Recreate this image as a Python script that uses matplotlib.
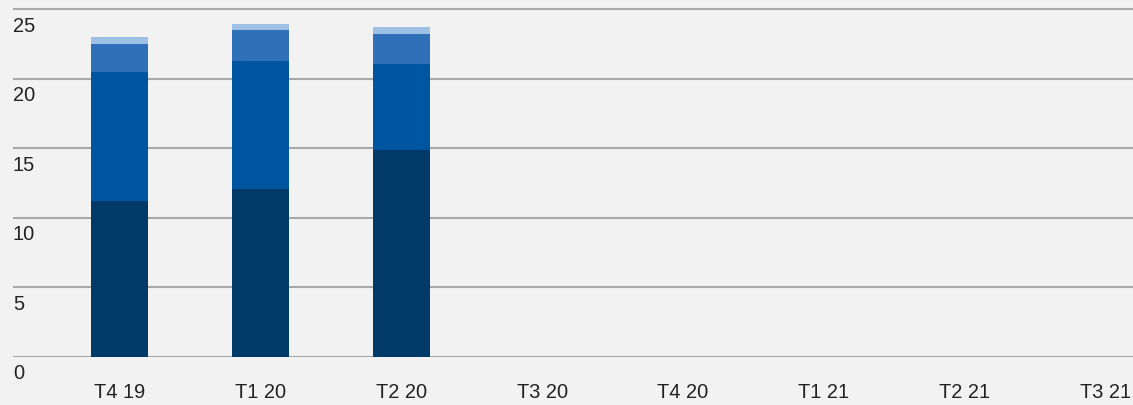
import numpy as np
import matplotlib
matplotlib.use("Agg")
import matplotlib.pyplot as plt
import matplotlib.transforms as mtransforms

# Data
quarters = ["T4 19", "T1 20", "T2 20", "T3 20", "T4 20", "T1 21", "T2 21", "T3 21"]
series_1 = [11.2, 12.1, 14.9]   # darkest, bottom
series_2 = [9.3, 9.2, 6.2]
series_3 = [2.0, 2.2, 2.1]
series_4 = [0.5, 0.45, 0.5]     # lightest, top
y_ticks = [0, 5, 10, 15, 20, 25]

colors = ["#003a69", "#0055a0", "#3070b8", "#9dc0e4"]
bg = "#f2f2f2"

plt.rcParams["font.family"] = ["Liberation Sans", "DejaVu Sans"]

fig = plt.figure(figsize=(11.33, 4.05), dpi=100, facecolor=bg)
ax = fig.add_axes([13 / 1133, 48.3 / 405, 1 - 13 / 1133, 1 - 48.3 / 405])
ax.set_facecolor(bg)

x = np.arange(len(series_1))
bottom = np.zeros(len(series_1))
for values, color in zip([series_1, series_2, series_3, series_4], colors):
    ax.bar(x, values, width=0.405, bottom=bottom, color=color, zorder=3)
    bottom += np.array(values)

ax.set_xlim(-0.756, 7.193)
ax.set_ylim(0, 25.67)

# horizontal grid lines
for t in y_ticks:
    ax.axhline(t, color="#a8a8a8", lw=1.5, zorder=1)

for side in ["top", "right", "left", "bottom"]:
    ax.spines[side].set_visible(False)

ax.set_xticks(np.arange(len(quarters)))
ax.set_xticklabels(quarters, fontsize=14.4, color="#222222")
ax.tick_params(axis="x", length=0, pad=19)
ax.set_yticks([])

# y labels sit just below each grid line, inside the left edge
trans = mtransforms.offset_copy(ax.get_yaxis_transform(), fig=fig, x=0, y=-5.5, units="points")
for t in y_ticks:
    ax.text(0.0, t, str(t), transform=trans, ha="left", va="top",
            fontsize=14.4, color="#222222")

fig.savefig("out.png", dpi=100, facecolor=bg)
